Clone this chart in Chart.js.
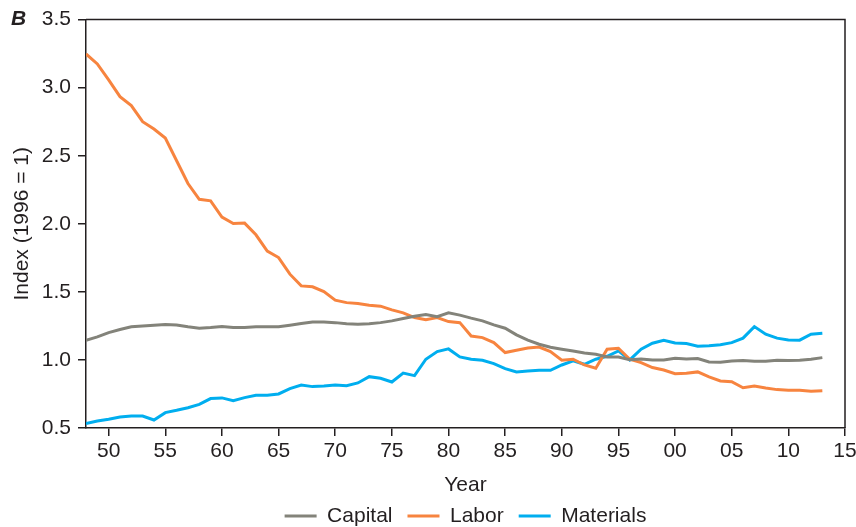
<!DOCTYPE html>
<html>
<head>
<meta charset="utf-8">
<script src="https://cdn.jsdelivr.net/npm/chart.js@4.4.1/dist/chart.umd.min.js"></script>
<style>
  html, body { margin: 0; padding: 0; background: #ffffff; }
  #wrap { width: 856px; height: 527px; position: relative; }
</style>
</head>
<body>
<div id="wrap"><canvas id="c" width="856" height="527"></canvas></div>
<script>
const years = [1948,1949,1950,1951,1952,1953,1954,1955,1956,1957,1958,1959,1960,1961,1962,1963,1964,1965,1966,1967,1968,1969,1970,1971,1972,1973,1974,1975,1976,1977,1978,1979,1980,1981,1982,1983,1984,1985,1986,1987,1988,1989,1990,1991,1992,1993,1994,1995,1996,1997,1998,1999,2000,2001,2002,2003,2004,2005,2006,2007,2008,2009,2010,2011,2012,2013];

const capital = [1.145,1.169,1.201,1.223,1.243,1.250,1.255,1.260,1.257,1.243,1.233,1.238,1.245,1.238,1.238,1.243,1.243,1.243,1.255,1.267,1.279,1.279,1.274,1.265,1.262,1.265,1.274,1.287,1.304,1.321,1.333,1.318,1.346,1.329,1.307,1.287,1.257,1.233,1.184,1.145,1.115,1.093,1.079,1.066,1.051,1.042,1.022,1.022,1.002,1.007,1.000,1.000,1.012,1.007,1.010,0.985,0.983,0.993,0.995,0.990,0.990,0.998,0.995,0.998,1.005,1.017];

const labor = [3.248,3.174,3.057,2.934,2.868,2.750,2.696,2.630,2.463,2.296,2.180,2.169,2.050,2.002,2.005,1.919,1.800,1.752,1.630,1.544,1.537,1.502,1.439,1.421,1.414,1.402,1.395,1.368,1.346,1.311,1.296,1.311,1.282,1.274,1.176,1.164,1.127,1.054,1.071,1.088,1.095,1.061,0.998,1.005,0.963,0.939,1.079,1.086,1.005,0.980,0.944,0.926,0.899,0.902,0.912,0.875,0.846,0.840,0.796,0.809,0.794,0.782,0.777,0.777,0.770,0.774];

const materials = [0.532,0.551,0.564,0.581,0.588,0.588,0.559,0.613,0.630,0.649,0.674,0.716,0.721,0.701,0.723,0.740,0.740,0.750,0.789,0.816,0.804,0.809,0.816,0.811,0.831,0.877,0.865,0.838,0.904,0.885,1.005,1.061,1.081,1.022,1.005,0.998,0.973,0.936,0.912,0.919,0.924,0.924,0.963,0.993,0.968,1.005,1.027,1.066,1.000,1.079,1.123,1.145,1.125,1.120,1.101,1.105,1.112,1.127,1.160,1.245,1.189,1.160,1.147,1.145,1.189,1.196];

const xTickValues = [1950,1955,1960,1965,1970,1975,1980,1985,1990,1995,2000,2005,2010,2015];
const yTickValues = [0.5,1.0,1.5,2.0,2.5,3.0,3.5];

const seriesNames = ['Capital','Labor','Materials'];
const seriesColors = ['#83837a','#f7843f','#00aeef'];
const seriesValues = [capital, labor, materials];

const INK = '#231f20';
const FONT = "'Liberation Sans', Arial, Helvetica, sans-serif";
const FS = 21;

const frame = {
  id: 'frame',
  afterDatasetsDraw(chart) {
    const a = chart.chartArea, ctx = chart.ctx;
    ctx.save();
    ctx.strokeStyle = INK;
    ctx.lineWidth = 1.5;
    ctx.beginPath();
    ctx.moveTo(a.left, a.top);
    ctx.lineTo(a.right, a.top);
    ctx.lineTo(a.right, a.bottom);
    ctx.stroke();
    ctx.restore();
  },
  afterDraw(chart) {
    const ctx = chart.ctx;
    ctx.save();
    ctx.fillStyle = INK;
    ctx.font = "italic bold 21px " + FONT;
    ctx.textBaseline = 'middle';
    ctx.textAlign = 'left';
    ctx.fillText('B', 11, 19);
    ctx.restore();
  }
};

new Chart(document.getElementById('c'), {
  type: 'line',
  data: {
    datasets: seriesNames.map((n, i) => ({
      label: n,
      data: years.map((y, j) => ({ x: y, y: seriesValues[i][j] })),
      borderColor: seriesColors[i],
      backgroundColor: seriesColors[i],
      borderWidth: 3,
      pointRadius: 0,
      tension: 0,
      fill: false,
      pointStyle: 'line'
    }))
  },
  options: {
    responsive: false,
    animation: false,
    devicePixelRatio: 1,
    layout: { padding: { left: 0, right: 11, top: 19, bottom: -9.5 } },
    plugins: {
      tooltip: { enabled: false },
      legend: {
        position: 'bottom',
        fullSize: false,
        labels: {
          usePointStyle: true,
          pointStyleWidth: 32,
          padding: 15,
          color: INK,
          font: { family: FONT, size: FS }
        }
      }
    },
    scales: {
      x: {
        type: 'linear',
        min: 1948,
        max: 2015,
        afterBuildTicks: (s) => { s.ticks = xTickValues.map(v => ({ value: v })); },
        afterFit: (s) => { s.height = 62.5; s.paddingRight = 11; },
        ticks: {
          color: INK,
          font: { family: FONT, size: FS },
          padding: 3,
          maxRotation: 0,
          autoSkip: false,
          callback: (v) => String(v % 100).padStart(2, '0')
        },
        grid: { drawOnChartArea: false, drawTicks: true, tickLength: 8, color: INK, lineWidth: 1.5 },
        border: { display: true, color: INK, width: 1.5 },
        title: { display: true, text: 'Year', color: INK, font: { family: FONT, size: FS }, padding: { top: 4, bottom: -7 } }
      },
      y: {
        min: 0.5,
        max: 3.5,
        afterBuildTicks: (s) => { s.ticks = yTickValues.map(v => ({ value: v })); },
        afterFit: (s) => { s.width = 86; },
        ticks: {
          color: INK,
          font: { family: FONT, size: FS },
          padding: 7,
          callback: (v) => Number(v).toFixed(1)
        },
        grid: { drawOnChartArea: false, drawTicks: true, tickLength: 8, color: INK, lineWidth: 1.5 },
        border: { display: true, color: INK, width: 1.5 },
        title: { display: true, text: 'Index (1996 = 1)', color: INK, font: { family: FONT, size: FS }, padding: { top: 10, bottom: 0 } }
      }
    }
  },
  plugins: [frame]
});
</script>
</body>
</html>
